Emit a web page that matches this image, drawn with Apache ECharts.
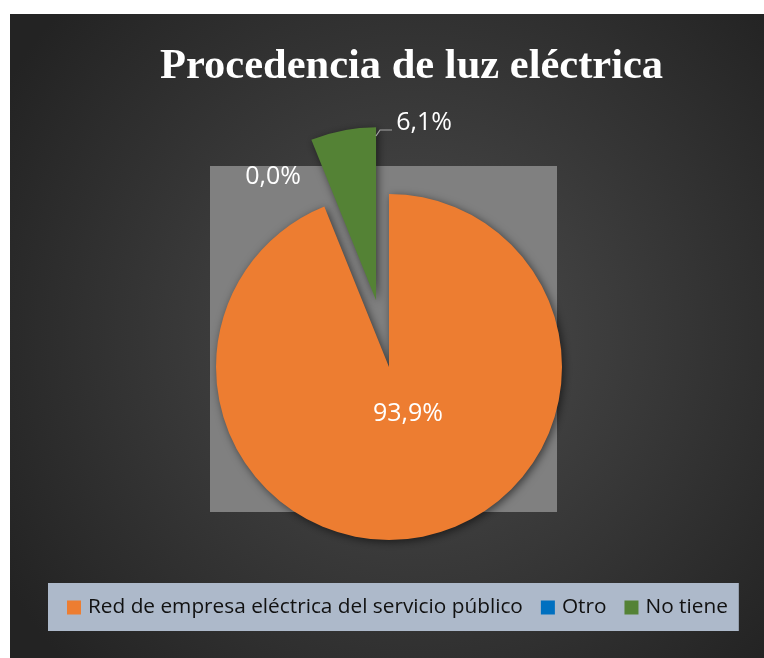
<!DOCTYPE html>
<html>
<head>
<meta charset="utf-8">
<script src="https://cdn.jsdelivr.net/npm/echarts@6/dist/echarts.min.js"></script>
<style>
html,body{margin:0;padding:0;background:#262626;overflow:hidden;}
#c{width:764px;height:658px;}
</style>
</head>
<body>
<div id="c"></div>
<script>
const titleText = 'Procedencia de luz eléctrica';
const categories = ['Red de empresa eléctrica del servicio público', 'Otro', 'No tiene'];
const percentages = [93.9, 0.0, 6.1];
const colors = ['#ED7D31', '#0070C0', '#548235'];
const explodedIndex = 2;

const chart = echarts.init(document.getElementById('c'), null, {renderer: 'canvas', width: 764, height: 658});

const pieCenter = [389, 367];
const pieRadius = 173;
const explodeDist = 68;

const total = percentages.reduce((a, b) => a + b, 0);
let before = 0;
for (let i = 0; i < explodedIndex; i++) before += percentages[i];
const midFrac = (before + percentages[explodedIndex] / 2) / total;
const midAng = midFrac * 2 * Math.PI;
const explodedCenter = [
  pieCenter[0] + Math.sin(midAng) * explodeDist,
  pieCenter[1] - Math.cos(midAng) * explodeDist
];

const labelPos = [
  {x: 408, y: 414},
  {x: 273, y: 177},
  {x: 424, y: 123}
];

const fmt = p => p.value.toFixed(1).replace('.', ',') + '%';

function pieSeries(showIdx, center) {
  return {
    type: 'pie',
    center: center,
    radius: pieRadius,
    startAngle: 90,
    clockwise: true,
    avoidLabelOverlap: false,
    silent: true,
    label: {
      show: true,
      position: 'inside',
      color: '#ffffff',
      fontFamily: 'Open Sans',
      fontSize: 25,
      formatter: fmt
    },
    labelLine: {show: false},
    emphasis: {disabled: true},
    labelLayout: function (params) {
      const p = labelPos[params.dataIndex];
      return {x: p.x, y: p.y, align: 'center', verticalAlign: 'middle'};
    },
    data: categories.map((name, i) => ({
      name: name,
      value: percentages[i],
      itemStyle: {
        color: colors[i],
        opacity: showIdx(i) ? 1 : 0,
        shadowBlur: 8,
        shadowColor: 'rgba(0,0,0,0.55)',
        shadowOffsetX: 2,
        shadowOffsetY: 2
      },
      label: {show: showIdx(i)}
    }))
  };
}

const option = {
  backgroundColor: '#262626',
  animation: false,
  graphic: [
    {
      type: 'rect', z: -10, silent: true,
      shape: {x: 10, y: 14, width: 900, height: 800},
      style: {
        fill: {
          type: 'radial', x: 0.45, y: 0.4, r: 0.6,
          colorStops: [
            {offset: 0, color: '#4d4d4d'},
            {offset: 1, color: '#232323'}
          ]
        }
      }
    },
    {
      type: 'rect', z: -8, silent: true,
      shape: {x: 0, y: 0, width: 764, height: 14},
      style: {fill: '#ffffff'}
    },
    {
      type: 'rect', z: -8, silent: true,
      shape: {x: 0, y: 0, width: 10, height: 658},
      style: {fill: '#ffffff'}
    },
    {
      type: 'rect', z: -9, silent: true,
      shape: {x: 210, y: 166, width: 347, height: 346},
      style: {fill: '#808080'}
    },
    {
      type: 'polyline', z: 10, silent: true,
      shape: {points: [[376, 136], [380, 130], [392, 130]]},
      style: {stroke: '#A6A6A6', lineWidth: 1.2, fill: null}
    }
  ],
  title: {
    text: titleText,
    left: 160,
    top: 46,
    padding: 0,
    textStyle: {
      fontFamily: 'Liberation Serif',
      fontWeight: 'bold',
      fontSize: 42.5,
      color: '#ffffff'
    }
  },
  legend: {
    data: categories.map((name, i) => ({name: name, itemStyle: {color: colors[i], opacity: 1}})),
    left: 48,
    top: 583,
    orient: 'horizontal',
    backgroundColor: '#ADB9CA',
    padding: [14, 11, 13, 19],
    itemWidth: 14,
    itemHeight: 14,
    itemGap: 18,
    icon: 'rect',
    selectedMode: false,
    textStyle: {
      fontFamily: 'Open Sans',
      fontSize: 20.8,
      color: '#111111',
      padding: [0, 0, 0, 2],
      lineHeight: 20
    }
  },
  series: [
    pieSeries(i => i !== explodedIndex, pieCenter),
    pieSeries(i => i === explodedIndex, explodedCenter)
  ]
};
chart.setOption(option);
</script>
</body>
</html>
